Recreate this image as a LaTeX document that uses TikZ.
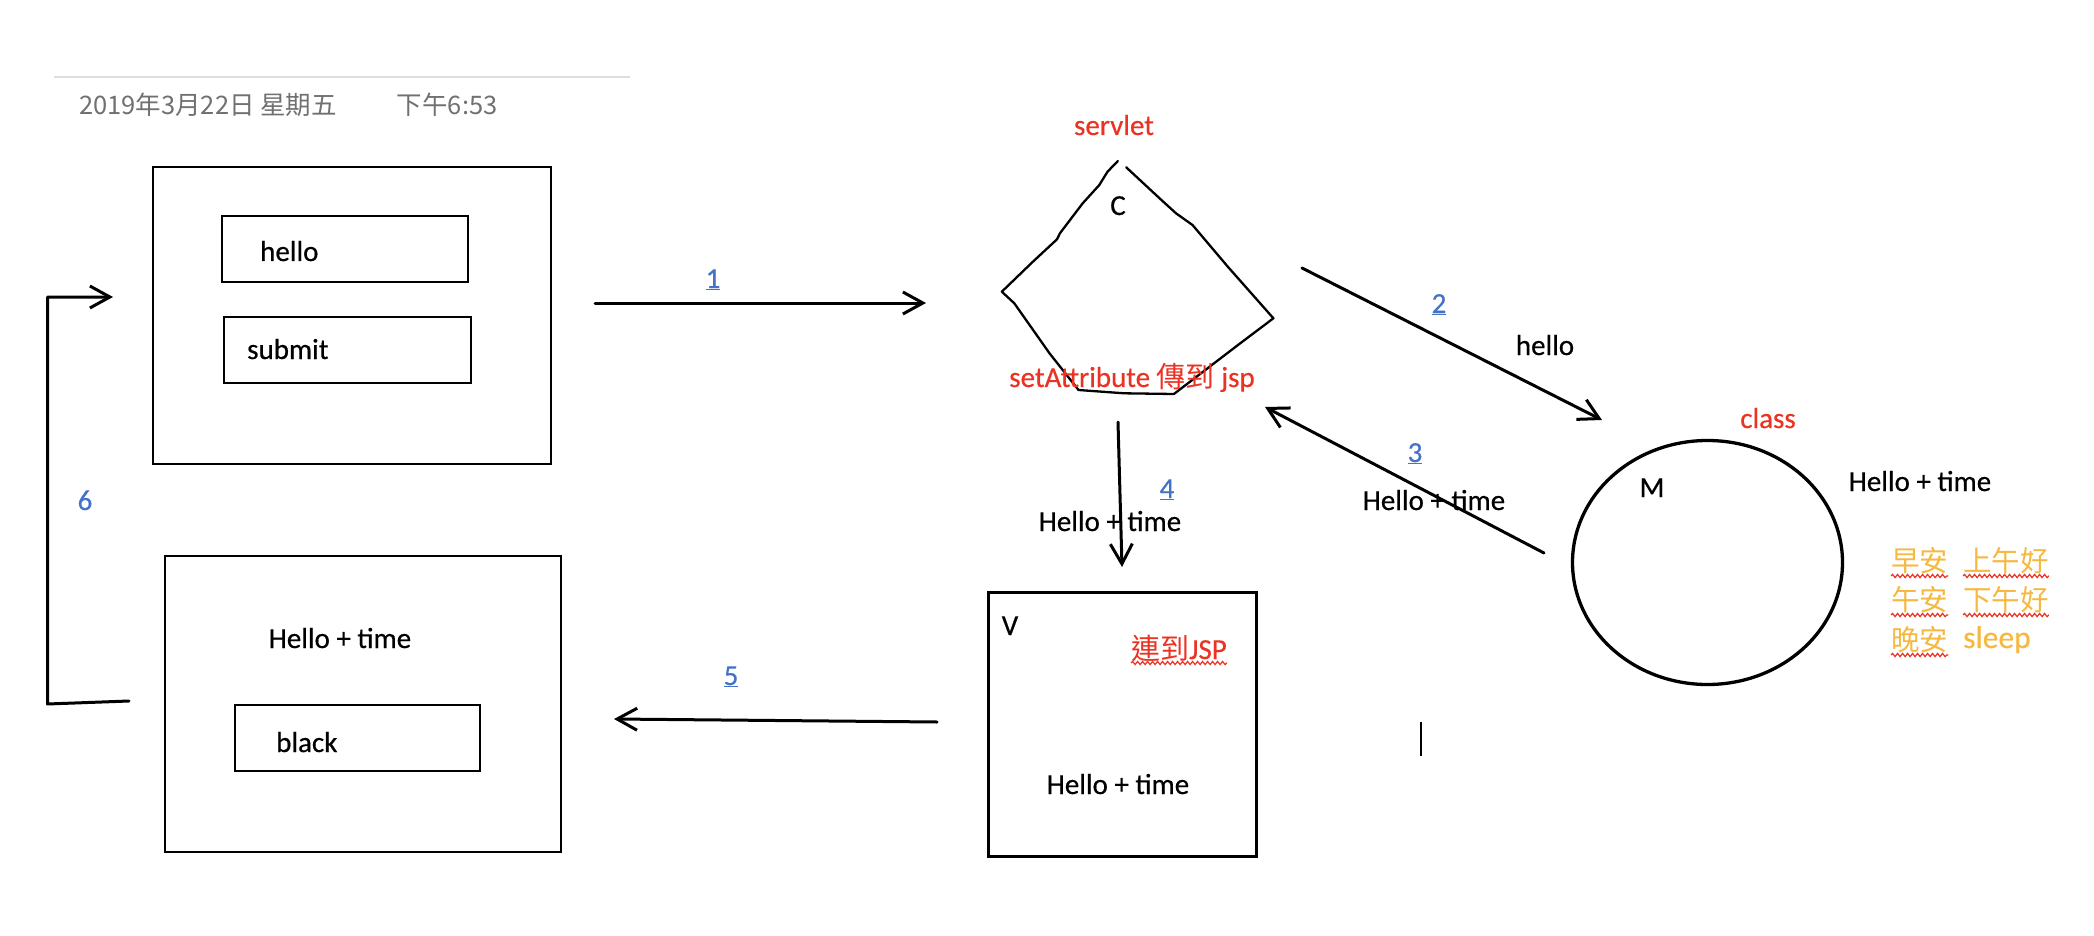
\documentclass[tikz,border=0pt]{standalone}
\usepackage{fontspec}
\setmainfont{Carlito}[FakeBold=0.5]
\newfontfamily\cjk{Noto Sans CJK TC}
\usetikzlibrary{arrows.meta,shapes.geometric,decorations.pathmorphing}

\definecolor{noteRed}{RGB}{235,51,36}
\definecolor{linkBlue}{RGB}{68,114,196}
\definecolor{greetOrange}{RGB}{245,185,66}
\definecolor{dateGray}{RGB}{112,112,112}
\definecolor{ruleGray}{RGB}{222,222,222}

\tikzset{
  box/.style={draw, line width=2.5pt, inner sep=0pt},
  lbl/.style={inner sep=0pt, anchor=base},
  num/.style={lbl, text=linkBlue},
  note/.style={lbl, text=noteRed},
  greet/.style={inner sep=0pt, anchor=base west, text=greetOrange},
  conn/.style={line width=3pt, line cap=round, line join=round, -{Straight Barb[length=20pt,width=22pt]}},
  squiggle/.style={draw=noteRed, line width=1.2pt, decorate, decoration={snake, segment length=5pt, amplitude=1.6pt}},
}

\begin{document}
\begin{tikzpicture}[x=1pt, y=-1pt, font=\fontsize{29}{34}\selectfont]
\useasboundingbox (0,0) rectangle (2094,936);

% page header
\draw[ruleGray, line width=2pt] (54,77) -- (630,77);
\node[lbl, anchor=base west, text=dateGray, font=\cjk\fontsize{25.5}{30}\selectfont] (date) at (79,115) {2019年3月22日 星期五\hspace{60pt}下午6:53};

% input page
\node[box, minimum width=398pt, minimum height=297pt] (form) at (352,315.5) {};
\node[box, minimum width=246pt, minimum height=66pt] (field) at (345,249) {};
\node[lbl, anchor=base west] (fieldtxt) at (260,261) {hello};
\node[box, minimum width=247pt, minimum height=66pt] (submit) at (347.5,350) {};
\node[lbl, anchor=base west] (submittxt) at (247,359) {submit};

% result page
\node[box, minimum width=396pt, minimum height=296pt] (result) at (363,704) {};
\node[lbl] (resulttxt) at (340,648) {Hello + time};
\node[box, minimum width=245pt, minimum height=66pt] (black) at (357.5,738) {};
\node[lbl, anchor=base west] (blacktxt) at (276,752) {black};

% controller (hand drawn)
\draw[line width=2.3pt, line cap=round, line join=round] (1126.2,167.3) -- (1161.4,200) -- (1176,213.3) -- (1192.5,225) -- (1227.8,266.7) -- (1273.4,318.3) -- (1240.2,343.3) -- (1173.9,394) -- (1124.1,393.3) -- (1078.5,390) -- (1049.5,353.3) -- (1014.3,303.3) -- (1001.8,291.7) -- (1032.9,261.7) -- (1057,239.3) -- (1059.9,233.3) -- (1082.7,203.3) -- (1099.3,185) -- (1107.5,171.7) -- (1117.9,161);
\node[note] (servlet) at (1114,135) {servlet};
\node[lbl] (ctrl) at (1118,215) {C};
\node[note] (setattr) at (1132,387) {setAttribute {\cjk 傳到} jsp};

% model
\node[draw, ellipse, line width=3.3pt, minimum width=270pt, minimum height=244pt, inner sep=0pt] (model) at (1707.5,562.5) {};
\node[lbl] (mdl) at (1652,497) {M};
\node[note] (class) at (1768,428) {class};
\node[lbl] (modeltxt) at (1920,491) {Hello + time};
\node[greet, font=\cjk\fontsize{28.5}{34}\selectfont] (g1) at (1891,571) {早安};
\node[greet, font=\cjk\fontsize{28.5}{34}\selectfont] (g2) at (1963,571) {上午好};
\node[greet, font=\cjk\fontsize{28.5}{34}\selectfont] (g3) at (1891,610) {午安};
\node[greet, font=\cjk\fontsize{28.5}{34}\selectfont] (g4) at (1963,610) {下午好};
\node[greet, font=\cjk\fontsize{28.5}{34}\selectfont] (g5) at (1891,650) {晚安};
\node[greet, font=\fontsize{31.5}{36}\selectfont] (g6) at (1963,648) {sleep};
\foreach \g in {g1,g2,g3,g4,g5}
  \draw[squiggle] ([yshift=-5pt]\g.base west) -- ([yshift=-5pt]\g.base east);

% view
\node[box, line width=3pt, minimum width=268pt, minimum height=264pt] (view) at (1122,724) {};
\node[lbl] (vw) at (1010,635) {V};
\node[note] (jsp) at (1179,659) {{\cjk 連到}JSP};
\draw[squiggle] ([yshift=-4pt]jsp.base west) -- ([yshift=-4pt]jsp.base east);
\node[lbl] (viewtxt) at (1118,794) {Hello + time};
\draw[line width=2pt] (1421,722) -- (1421,756);% cursor

% arrows
\coordinate (s1) at (595,303);
\coordinate (e1) at (926,303);
\coordinate (s2) at (1302,268);
\coordinate (e2) at (1602,420);
\coordinate (s3) at (1544,553);
\coordinate (e3) at (1265,407);
\coordinate (s4) at (1118,422);
\coordinate (e4) at (1122,567);
\coordinate (s5) at (937,722);
\coordinate (e5) at (614,719);
\coordinate (s6) at (129,701);
\coordinate (e6) at (113,297);
\draw[conn] (s1) -- (e1);
\draw[conn] (s2) -- (e2);
\draw[conn] (s3) -- (e3);
\draw[conn] (s4) -- (e4);
\draw[conn] (s5) -- (e5);
\draw[conn] (s6) -- (47.5,704) |- (e6);

\node[num] (n1) at (713,288) {\underline{1}};
\node[num] (n2) at (1439,313) {\underline{2}};
\node[lbl] (hello2) at (1545,355) {hello};
\node[num] (n3) at (1415,462) {\underline{3}};
\node[lbl] (hello3) at (1434,510) {Hello + time};
\node[num] (n4) at (1167,498) {\underline{4}};
\node[lbl] (hello4) at (1110,531) {Hello + time};
\node[num] (n5) at (731,685) {\underline{5}};
\node[num] (n6) at (85,510) {6};
\end{tikzpicture}
\end{document}
